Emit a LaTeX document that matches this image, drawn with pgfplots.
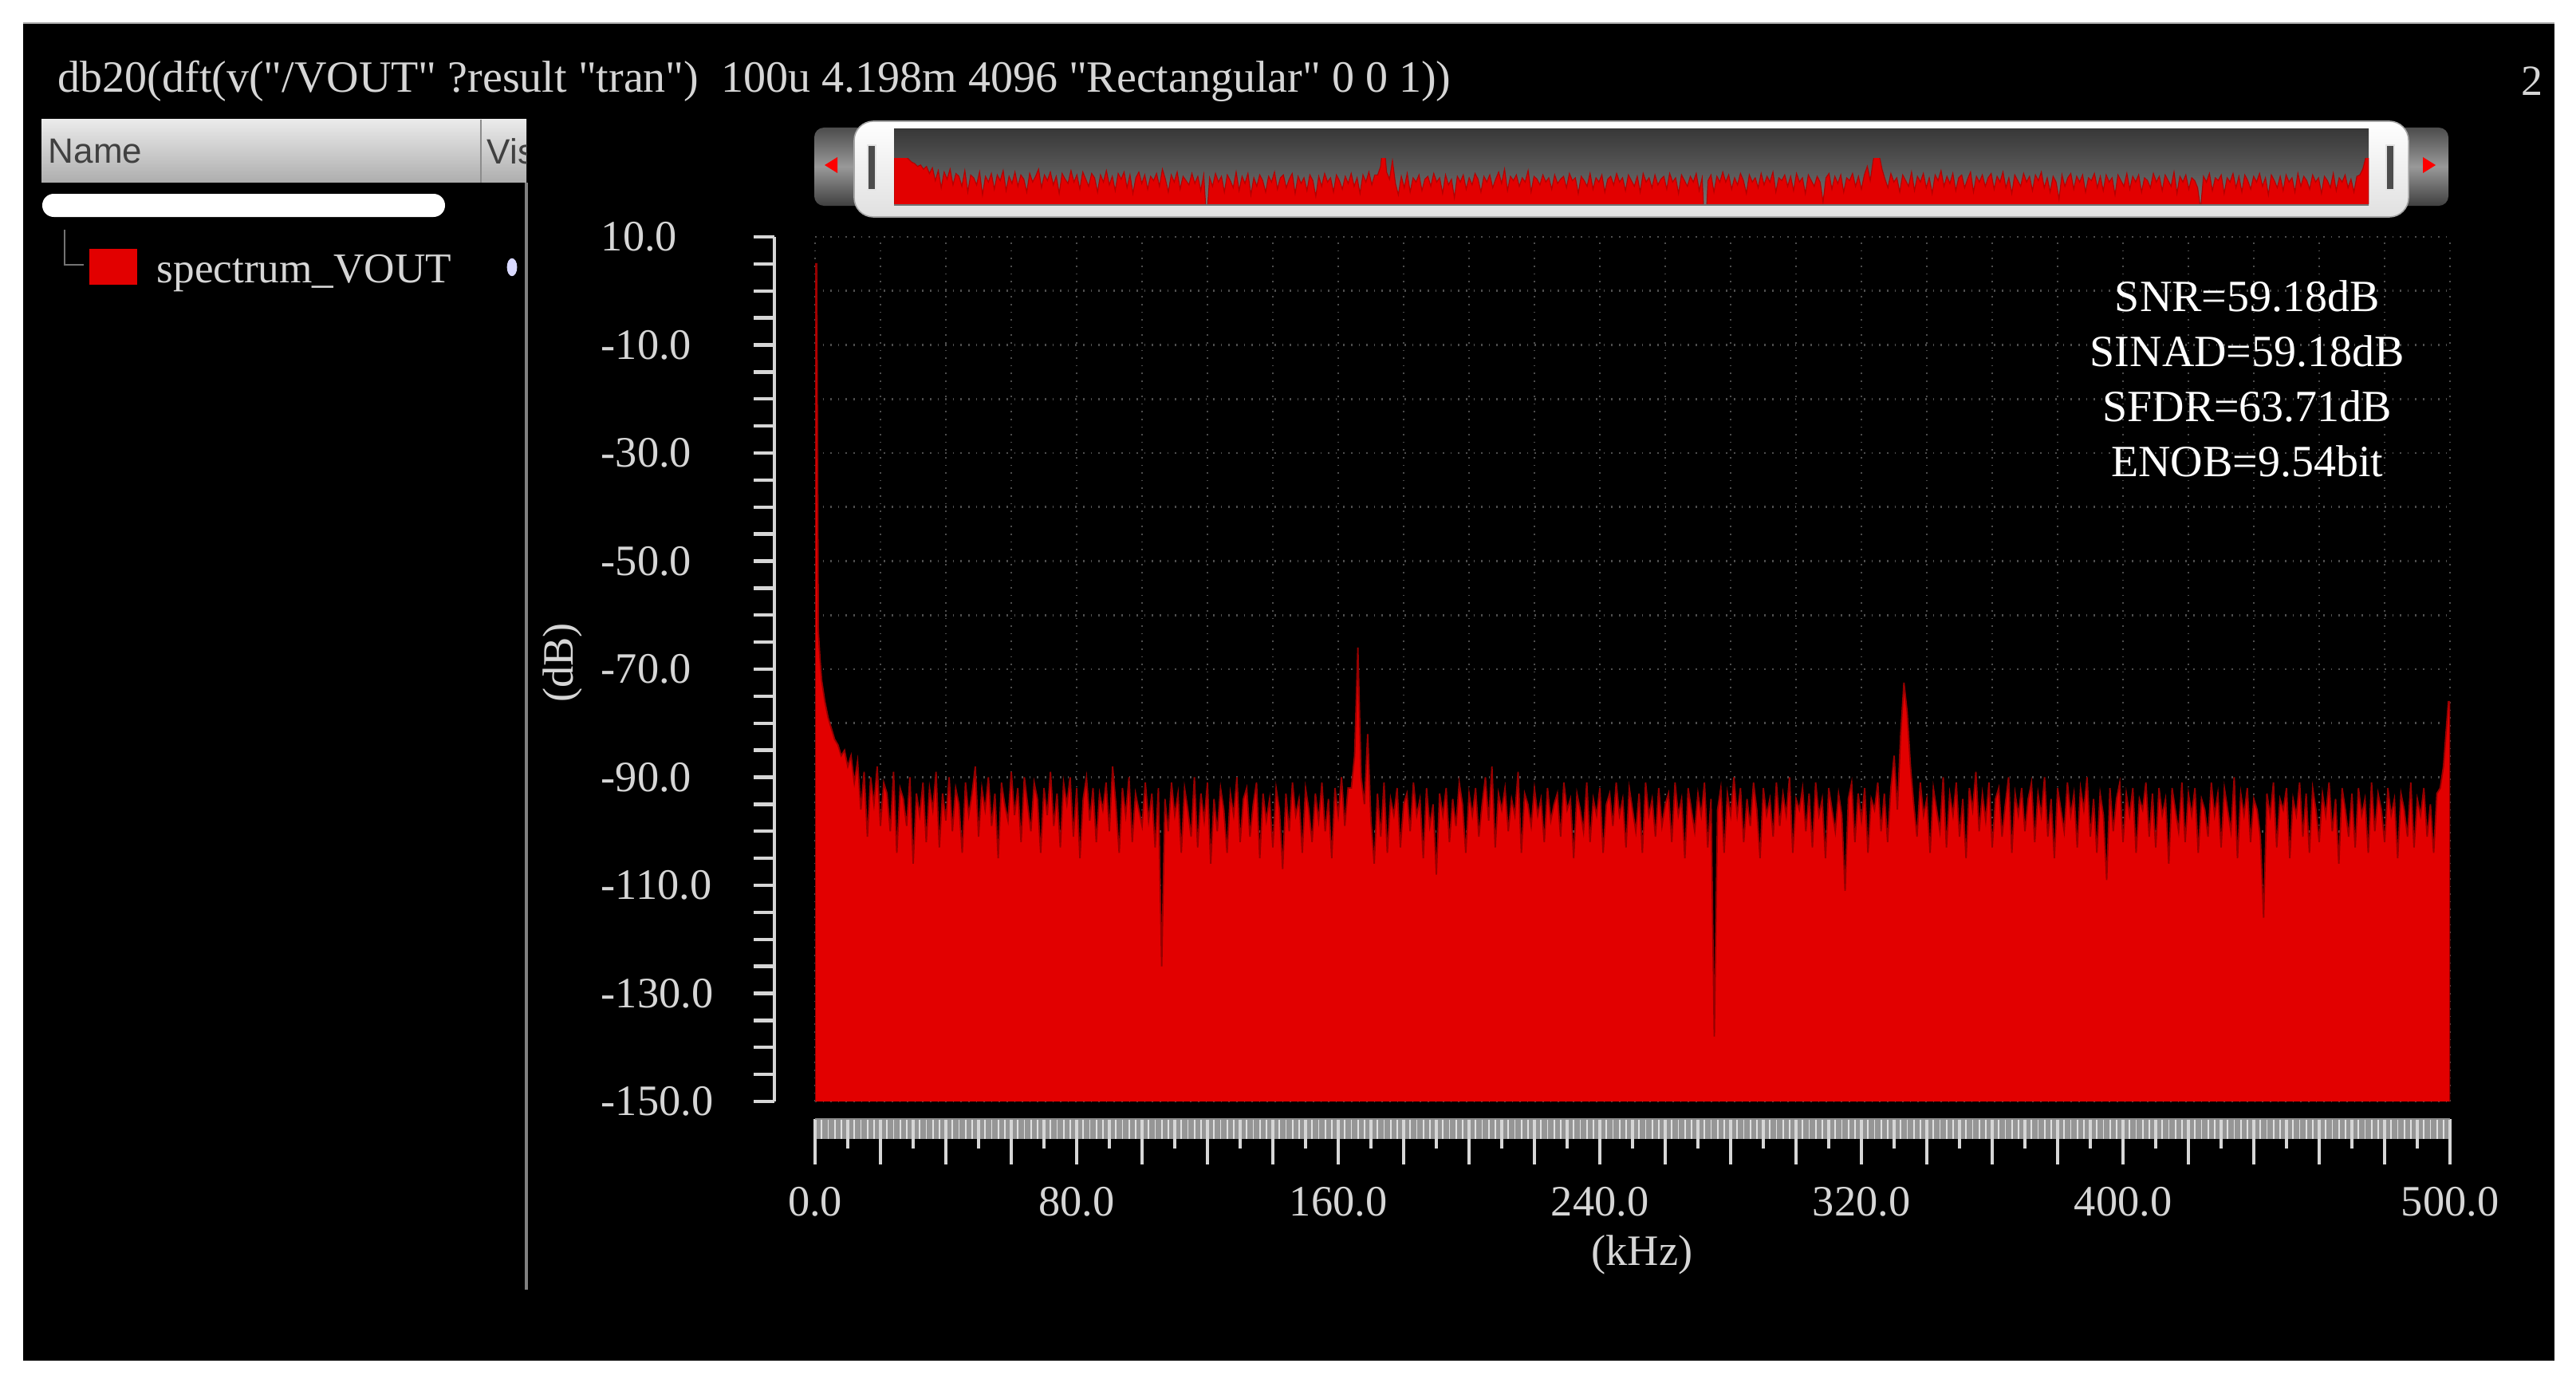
\documentclass[border=0pt]{standalone}
\usepackage{fontspec}
\setmainfont{Liberation Serif}
\newfontfamily\sansf{Liberation Sans}
\usepackage{pgfplots}
\usepackage{pgfplotstable}
\pgfplotsset{compat=1.18}
\definecolor{ltgray}{RGB}{214,214,214}
\definecolor{specred}{RGB}{226,0,0}
\definecolor{specdark}{RGB}{150,0,0}
\definecolor{gridc}{RGB}{78,78,78}
\definecolor{bandgray}{RGB}{150,150,150}
\newcommand\q{\textquotedbl}

\pgfplotstableread[row sep=\\]{
x y\\
0 -150\\ 0 5\\ 0.5 5\\ 1 -63\\ 1.5 -68\\ 2 -72\\ 3 -76\\ 4 -79\\ 5 -81\\ 6 -83\\ 7 -84\\ 8 -86\\ 9 -85\\ 10 -88\\ 11 -86\\
12 -91\\ 13 -87\\ 14 -96\\ 15 -89\\ 16 -101\\ 17 -90\\ 18 -95\\ 19 -88\\ 20 -99\\ 21 -91\\
22 -93\\ 23 -100\\ 24 -89\\ 25 -104\\ 26 -92\\ 27 -94\\ 28 -99\\ 29 -90\\ 30 -106\\ 31 -93\\
32 -97\\ 33 -91\\ 34 -102\\ 35 -92\\ 36 -96\\ 37 -89\\ 38 -103\\ 39 -93\\ 40 -98\\ 41 -90\\
42 -100\\ 43 -92\\ 44 -95\\ 45 -104\\ 46 -91\\ 47 -97\\ 48 -93\\ 49 -88\\ 50 -101\\ 51 -92\\
52 -96\\ 53 -90\\ 54 -99\\ 55 -93\\ 56 -105\\ 57 -91\\ 58 -95\\ 59 -98\\ 60 -89\\ 61 -97\\
62 -92\\ 63 -102\\ 64 -90\\ 65 -95\\ 66 -100\\ 67 -91\\ 68 -94\\ 69 -104\\ 70 -92\\ 71 -97\\
72 -89\\ 73 -99\\ 74 -93\\ 75 -103\\ 76 -91\\ 77 -95\\ 78 -90\\ 79 -101\\ 80 -92\\ 81 -105\\
82 -94\\ 83 -90\\ 84 -98\\ 85 -92\\ 86 -102\\ 87 -93\\ 88 -96\\ 89 -91\\ 90 -100\\ 91 -88\\
92 -95\\ 93 -104\\ 94 -92\\ 95 -97\\ 96 -90\\ 97 -102\\ 98 -93\\ 99 -96\\ 100 -99\\ 101 -91\\
102 -98\\ 103 -93\\ 104 -103\\ 105 -92\\ 106 -125\\ 107 -94\\ 108 -100\\ 109 -91\\ 110 -97\\ 111 -93\\
112 -104\\ 113 -92\\ 114 -96\\ 115 -101\\ 116 -90\\ 117 -103\\ 118 -93\\ 119 -98\\ 120 -91\\ 121 -106\\
122 -94\\ 123 -100\\ 124 -92\\ 125 -96\\ 126 -104\\ 127 -93\\ 128 -97\\ 129 -90\\ 130 -102\\ 131 -94\\
132 -92\\ 133 -101\\ 134 -95\\ 135 -91\\ 136 -105\\ 137 -93\\ 138 -98\\ 139 -94\\ 140 -103\\ 141 -92\\
142 -96\\ 143 -107\\ 144 -93\\ 145 -100\\ 146 -91\\ 147 -97\\ 148 -94\\ 149 -104\\ 150 -92\\ 151 -96\\
152 -102\\ 153 -93\\ 154 -98\\ 155 -91\\ 156 -100\\ 157 -94\\ 158 -105\\ 159 -92\\ 160 -97\\ 161 -90\\
162 -99\\ 163 -92\\ 164 -92\\ 165 -86\\ 166 -66\\ 167 -90\\ 168 -95\\ 169 -82\\ 170 -98\\ 171 -106\\
172 -93\\ 173 -101\\ 174 -91\\ 175 -104\\ 176 -94\\ 177 -97\\ 178 -92\\ 179 -103\\ 180 -95\\ 181 -93\\
182 -100\\ 183 -91\\ 184 -97\\ 185 -94\\ 186 -105\\ 187 -92\\ 188 -99\\ 189 -95\\ 190 -108\\ 191 -93\\
192 -97\\ 193 -92\\ 194 -102\\ 195 -94\\ 196 -99\\ 197 -91\\ 198 -95\\ 199 -104\\ 200 -93\\ 201 -97\\
202 -92\\ 203 -101\\ 204 -95\\ 205 -90\\ 206 -98\\ 207 -88\\ 208 -103\\ 209 -93\\ 210 -96\\ 211 -92\\
212 -100\\ 213 -94\\ 214 -97\\ 215 -89\\ 216 -104\\ 217 -93\\ 218 -95\\ 219 -99\\ 220 -92\\ 221 -97\\
222 -94\\ 223 -102\\ 224 -92\\ 225 -98\\ 226 -95\\ 227 -93\\ 228 -101\\ 229 -91\\ 230 -96\\ 231 -94\\
232 -105\\ 233 -93\\ 234 -96\\ 235 -100\\ 236 -91\\ 237 -102\\ 238 -94\\ 239 -97\\ 240 -92\\ 241 -104\\
242 -95\\ 243 -93\\ 244 -99\\ 245 -91\\ 246 -97\\ 247 -94\\ 248 -103\\ 249 -92\\ 250 -96\\ 251 -100\\
252 -93\\ 253 -104\\ 254 -91\\ 255 -97\\ 256 -94\\ 257 -101\\ 258 -92\\ 259 -99\\ 260 -95\\ 261 -93\\
262 -102\\ 263 -91\\ 264 -97\\ 265 -94\\ 266 -105\\ 267 -92\\ 268 -96\\ 269 -100\\ 270 -93\\ 271 -97\\
272 -91\\ 273 -103\\ 274 -94\\ 275 -138\\ 276 -96\\ 277 -92\\ 278 -104\\ 279 -93\\ 280 -97\\ 281 -90\\
282 -97\\ 283 -92\\ 284 -102\\ 285 -94\\ 286 -99\\ 287 -91\\ 288 -96\\ 289 -105\\ 290 -92\\ 291 -97\\
292 -94\\ 293 -101\\ 294 -91\\ 295 -99\\ 296 -93\\ 297 -97\\ 298 -90\\ 299 -104\\ 300 -94\\ 301 -96\\
302 -92\\ 303 -100\\ 304 -93\\ 305 -103\\ 306 -91\\ 307 -97\\ 308 -94\\ 309 -105\\ 310 -92\\ 311 -96\\
312 -100\\ 313 -93\\ 314 -97\\ 315 -111\\ 316 -94\\ 317 -91\\ 318 -102\\ 319 -93\\ 320 -98\\ 321 -92\\
322 -104\\ 323 -94\\ 324 -96\\ 325 -91\\ 326 -100\\ 327 -93\\ 328 -102\\ 329 -92\\ 330 -86\\ 331 -96\\
332 -82\\ 333 -72.5\\ 334 -78\\ 335 -88\\ 336 -95\\ 337 -101\\ 338 -91\\ 339 -97\\ 340 -94\\ 341 -104\\
342 -92\\ 343 -96\\ 344 -100\\ 345 -90\\ 346 -103\\ 347 -93\\ 348 -97\\ 349 -91\\ 350 -101\\ 351 -94\\
352 -105\\ 353 -92\\ 354 -96\\ 355 -89\\ 356 -100\\ 357 -93\\ 358 -98\\ 359 -91\\ 360 -103\\ 361 -94\\
362 -92\\ 363 -101\\ 364 -95\\ 365 -90\\ 366 -104\\ 367 -93\\ 368 -97\\ 369 -92\\ 370 -100\\ 371 -94\\
372 -91\\ 373 -102\\ 374 -93\\ 375 -97\\ 376 -90\\ 377 -101\\ 378 -94\\ 379 -105\\ 380 -92\\ 381 -96\\
382 -100\\ 383 -91\\ 384 -97\\ 385 -93\\ 386 -103\\ 387 -92\\ 388 -96\\ 389 -90\\ 390 -101\\ 391 -94\\
392 -104\\ 393 -93\\ 394 -97\\ 395 -109\\ 396 -92\\ 397 -100\\ 398 -94\\ 399 -91\\ 400 -102\\ 401 -93\\
402 -97\\ 403 -92\\ 404 -104\\ 405 -94\\ 406 -96\\ 407 -91\\ 408 -101\\ 409 -93\\ 410 -103\\ 411 -92\\
412 -97\\ 413 -94\\ 414 -106\\ 415 -92\\ 416 -96\\ 417 -100\\ 418 -91\\ 419 -102\\ 420 -93\\ 421 -97\\
422 -92\\ 423 -104\\ 424 -94\\ 425 -96\\ 426 -101\\ 427 -91\\ 428 -97\\ 429 -93\\ 430 -103\\ 431 -92\\
432 -96\\ 433 -100\\ 434 -90\\ 435 -105\\ 436 -93\\ 437 -97\\ 438 -92\\ 439 -102\\ 440 -94\\ 441 -96\\
442 -101\\ 443 -116\\ 444 -93\\ 445 -97\\ 446 -91\\ 447 -103\\ 448 -94\\ 449 -96\\ 450 -92\\ 451 -105\\
452 -94\\ 453 -97\\ 454 -91\\ 455 -101\\ 456 -93\\ 457 -104\\ 458 -92\\ 459 -96\\ 460 -102\\ 461 -93\\
462 -97\\ 463 -91\\ 464 -100\\ 465 -94\\ 466 -106\\ 467 -92\\ 468 -96\\ 469 -101\\ 470 -93\\ 471 -103\\
472 -92\\ 473 -97\\ 474 -94\\ 475 -104\\ 476 -91\\ 477 -100\\ 478 -93\\ 479 -96\\ 480 -102\\ 481 -92\\
482 -97\\ 483 -94\\ 484 -105\\ 485 -93\\ 486 -96\\ 487 -101\\ 488 -91\\ 489 -103\\ 490 -94\\ 491 -97\\
492 -92\\ 493 -101\\ 494 -95\\ 495 -104\\ 496 -93\\ 497 -92\\ 498 -88\\ 499 -80\\ 499.5 -76\\ 500 -76\\
500 -150\\
}\spec

\begin{document}
\begin{tikzpicture}[x=1pt,y=1pt]
\useasboundingbox (0,0) rectangle (807.5,-433.25);
\fill[white] (0,0) rectangle (807.5,-433.25);
\fill[black] (7.25,-7.25) rectangle (800.75,-426.5);
\draw[gray!70,line width=0.6pt] (7.25,-7.25) -- (800.75,-7.25);
% title
\node[anchor=west,inner sep=0,text=ltgray,font=\fontsize{14}{16}\selectfont] at (18,-25.5) {db20(dft(v(\q/VOUT\q{} ?result \q{}tran\q)\ \ 100u 4.198m 4096 \q{}Rectangular\q{} 0 0 1))};
\node[anchor=center,inner sep=0,text=ltgray,font=\fontsize{13.5}{16}\selectfont] at (793.75,-25.5) {2};
% left panel
\shade[top color=black!8,bottom color=black!32] (13,-37.5) rectangle (165,-57.25);
\draw[black!45,line width=0.5pt] (150.75,-37.5) -- (150.75,-57.25);
\node[anchor=west,inner sep=0,text=black!75,font=\sansf\fontsize{11}{13}\selectfont] at (15,-47.5) {Name};
\begin{scope}
\clip (151,-37.5) rectangle (165,-57.25);
\node[anchor=west,inner sep=0,text=black!75,font=\sansf\fontsize{11}{13}\selectfont] at (152.5,-47.5) {Vis};
\end{scope}
\draw[black!50,line width=1.2pt] (165,-57.25) -- (165,-404.25);
\fill[white,rounded corners=3.6pt] (13.25,-60.75) rectangle (139.5,-68);
\draw[black!55,line width=0.6pt] (20.25,-72) -- (20.25,-83) -- (26.25,-83);
\fill[specred] (28,-78) rectangle (43,-89.25);
\node[anchor=base west,inner sep=0,text=ltgray,font=\fontsize{13.3}{16}\selectfont] at (49,-88.5) {spectrum\_VOUT};
\fill[blue!15!white] (160.5,-83.75) ellipse (1.6pt and 2.8pt);
% scrollbar
\shade[rounded corners=3pt,top color=black!70,bottom color=black!75,middle color=black!40] (255.25,-40) rectangle (767.5,-64.5);
\fill[red] (258.5,-51.75) -- (262.5,-49.25) -- (262.5,-54.25) -- cycle;
\fill[red] (763.5,-51.75) -- (759.5,-49.25) -- (759.5,-54.25) -- cycle;
\shade[rounded corners=6pt,top color=white,bottom color=black!12,draw=black!35] (267.75,-38) rectangle (755,-68);
\shade[top color=black!78,bottom color=black!55] (280.25,-40.5) rectangle (742.5,-64.25);
\fill[black!70,draw=black!10,line width=0.5pt] (272,-45.5) rectangle (274.5,-59.5);
\fill[black!70,draw=black!10,line width=0.5pt] (748,-45.5) rectangle (750.5,-59.5);

% mini spectrum in scrollbar
\begin{axis}[at={(280.25pt,-63.75pt)},anchor=south west,scale only axis,
  width=462.25pt,height=14.25pt,xmin=0,xmax=500,ymin=-112,ymax=-80,hide axis,clip=true]
\addplot[fill=specred,draw=specred!80!black,line width=0.3pt] table[x=x,y=y]{\spec};
\end{axis}

% main plot area
\begin{axis}[at={(255.5pt,-345.25pt)},anchor=south west,scale only axis,
  width=512.5pt,height=271pt,xmin=0,xmax=500,ymin=-150,ymax=10,
  axis background/.style={fill=black},
  axis line style={draw=none},
  xtick={0,20,...,500},ytick={-150,-140,...,10},
  xticklabel=\empty,yticklabel=\empty,
  major tick length=0pt,tick style={draw=none},
  grid=major,
  major grid style={gridc,dotted,line width=0.7pt},
  clip=true]
\addplot[fill=specred,draw=specdark,line width=0.45pt] table[x=x,y=y]{\spec};
\node[align=center,text=white,inner sep=0,font=\fontsize{14}{17.25}\selectfont]
  at (rel axis cs:0.876,0.836) {SNR=59.18dB\\SINAD=59.18dB\\SFDR=63.71dB\\ENOB=9.54bit};
\end{axis}

% y ruler
\begin{axis}[at={(242.75pt,-345.25pt)},anchor=south west,scale only axis,
  width=20pt,height=271pt,xmin=0,xmax=1,ymin=-150,ymax=10,
  axis y line*=left,axis x line=none,xtick=\empty,
  ytick={-150,-140,...,10},
  yticklabels={-150.0,,-130.0,,-110.0,,-90.0,,-70.0,,-50.0,,-30.0,,-10.0,,10.0},
  minor y tick num=1,
  tick align=outside,major tick length=6.5pt,minor tick length=6.5pt,
  y axis line style={ltgray,line width=1.1pt},
  ytick style={ltgray,line width=1.1pt},
  yticklabel style={text width=36pt,align=left,text=ltgray,xshift=-8.25pt,font=\fontsize{13.6}{16}\selectfont},
  ylabel={(dB)},
  ylabel style={at={(axis description cs:0,0.5)},anchor=center,xshift=2pt,yshift=66.5pt,text=ltgray,font=\fontsize{13.6}{16}\selectfont}]
\end{axis}

% x ruler band
\begin{axis}[at={(255.5pt,-350.75pt)},anchor=north west,scale only axis,
  width=512.5pt,height=6.25pt,xmin=0,xmax=500,ymin=0,ymax=1,
  axis background/.style={fill=bandgray},
  axis line style={draw=none},
  xtick={0,2,...,500},ytick=\empty,xticklabel=\empty,
  xtick pos=bottom,tick align=inside,major tick length=6.25pt,
  xtick style={black!12,line width=0.45pt}]
\end{axis}

% x ruler
\begin{axis}[at={(255.5pt,-350.75pt)},anchor=south west,scale only axis,
  width=512.5pt,height=1pt,xmin=0,xmax=500,ymin=0,ymax=1,
  axis x line*=bottom,axis y line=none,ytick=\empty,
  x axis line style={black!45,line width=0.6pt},
  xtick={0,20,...,500},
  xticklabels={0.0,,,,80.0,,,,160.0,,,,240.0,,,,320.0,,,,400.0,,,,,500.0},
  minor x tick num=1,
  tick align=outside,major tick length=14.25pt,minor tick length=9.25pt,
  xtick style={ltgray,line width=0.9pt},
  xticklabel style={text=ltgray,yshift=-3.6pt,font=\fontsize{13.6}{16}\selectfont},
  xlabel={(kHz)},
  xlabel style={at={(axis description cs:0.5,0)},anchor=center,xshift=3pt,yshift=-42.5pt,text=ltgray,font=\fontsize{13.6}{16}\selectfont}]
\end{axis}
\end{tikzpicture}
\end{document}
